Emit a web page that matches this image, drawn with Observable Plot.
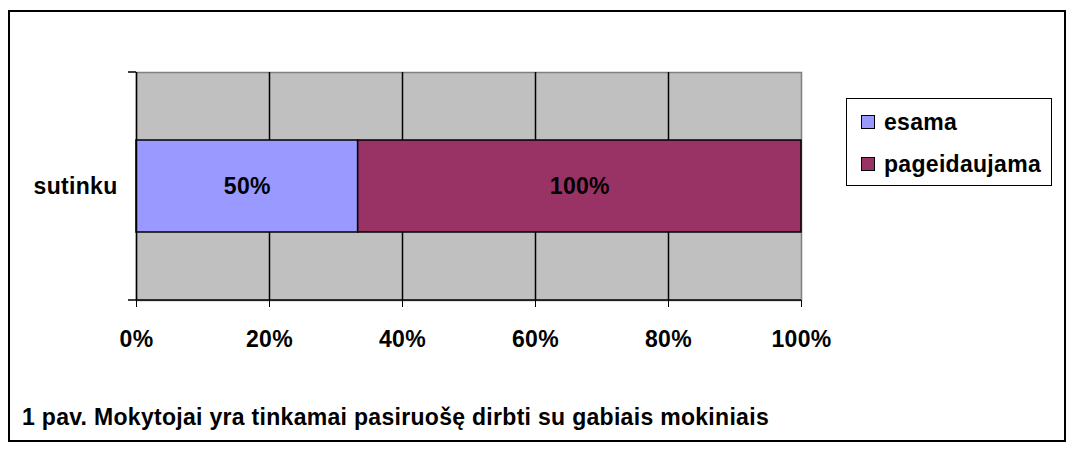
<!DOCTYPE html>
<html><head><meta charset="utf-8">
<script src="https://cdn.jsdelivr.net/npm/d3@7"></script>
<script src="https://cdn.jsdelivr.net/npm/@observablehq/plot@0.6"></script>
<style>
body{margin:0;background:#fff;font-family:"Liberation Sans",Arial,sans-serif;}
#wrap{position:relative;width:1076px;height:452px;overflow:hidden;background:#fff;}
#border{position:absolute;left:8px;top:10px;width:1054px;height:428px;border:2px solid #000;}
#chart{position:absolute;left:0;top:0;}
#chart svg text{letter-spacing:0.3px;}
#legend{position:absolute;left:846px;top:98px;width:204px;height:86px;border:1.5px solid #000;background:#fff;font-weight:bold;font-size:23px;letter-spacing:0.3px;}
.item{position:absolute;left:14px;height:24px;line-height:24px;white-space:nowrap;}
.sw{display:inline-block;width:12px;height:12px;border:1px solid #000;vertical-align:middle;margin-right:9px;position:relative;top:-2px;}
#caption{position:absolute;left:22px;top:406px;font-weight:bold;font-size:23px;line-height:23px;letter-spacing:0.3px;white-space:nowrap;}
</style></head>
<body>
<div id="wrap">
  <div id="border"></div>
  <div id="chart"></div>
  <div id="legend"></div>
  <div id="caption"></div>
</div>
<script>
const categories = ["sutinku"];
const series = ["esama", "pageidaujama"];
const values = [50, 100];
const colors = ["#9999ff", "#993366"];
const xTicks = [0, 0.2, 0.4, 0.6, 0.8, 1];
const captionText = "1 pav. Mokytojai yra tinkamai pasiruošę dirbti su gabiais mokiniais";

const data = series.map((s, i) => ({category: categories[0], series: s, value: values[i]}));
const pct = d3.format(".0%");

const plot = Plot.plot({
  width: 1076, height: 452,
  marginLeft: 136, marginRight: 275, marginTop: 72, marginBottom: 152,
  style: {fontFamily: "'Liberation Sans', Arial, sans-serif", fontSize: "23px", fontWeight: "bold", color: "#000", background: "transparent"},
  x: {domain: [0, 1]},
  y: {domain: categories, padding: 0.425},
  color: {domain: series, range: colors},
  marks: [
    Plot.frame({fill: "#c0c0c0", stroke: "#808080", strokeWidth: 1.5}),
    Plot.ruleX(xTicks.slice(1, -1), {stroke: "#000", strokeWidth: 1.5}),
    Plot.barX(data, Plot.stackX({x: "value", y: "category", fill: "series", offset: "normalize", stroke: "#000", strokeWidth: 1.5})),
    Plot.text(data, Plot.stackX({x: "value", y: "category", z: "series", text: d => d.value + "%", offset: "normalize", fill: "#000", fontWeight: "bold"})),
    Plot.ruleX([0], {stroke: "#000", strokeWidth: 1.5}),
    Plot.axisX({ticks: xTicks, tickFormat: pct, tickSize: 7, tickPadding: 23, label: null}),
    Plot.axisY({tickSize: 0, tickPadding: 19, label: null})
  ]
});
document.getElementById("chart").appendChild(plot);

// bottom axis line and category-boundary ticks, from the scales
const xs = plot.scale("x"), ys = plot.scale("y");
const [yTop, yBot] = ys.range;
const xL = xs.apply(0), xR = xs.apply(1);
const svg = d3.select(plot);
svg.append("line").attr("x1", xL).attr("x2", xR).attr("y1", yBot).attr("y2", yBot).attr("stroke", "#000").attr("stroke-width", 1.5);
[yTop, yBot].forEach(y => svg.append("line").attr("x1", xL - 8).attr("x2", xL).attr("y1", y).attr("y2", y).attr("stroke", "#000").attr("stroke-width", 1.5));

// legend
const legend = d3.select("#legend");
series.forEach((s, i) => {
  const it = legend.append("div").attr("class", "item").style("top", (11 + i * 42) + "px");
  it.append("span").attr("class", "sw").style("background", colors[i]);
  it.append("span").text(s);
});
document.getElementById("caption").textContent = captionText;
</script>
</body></html>
